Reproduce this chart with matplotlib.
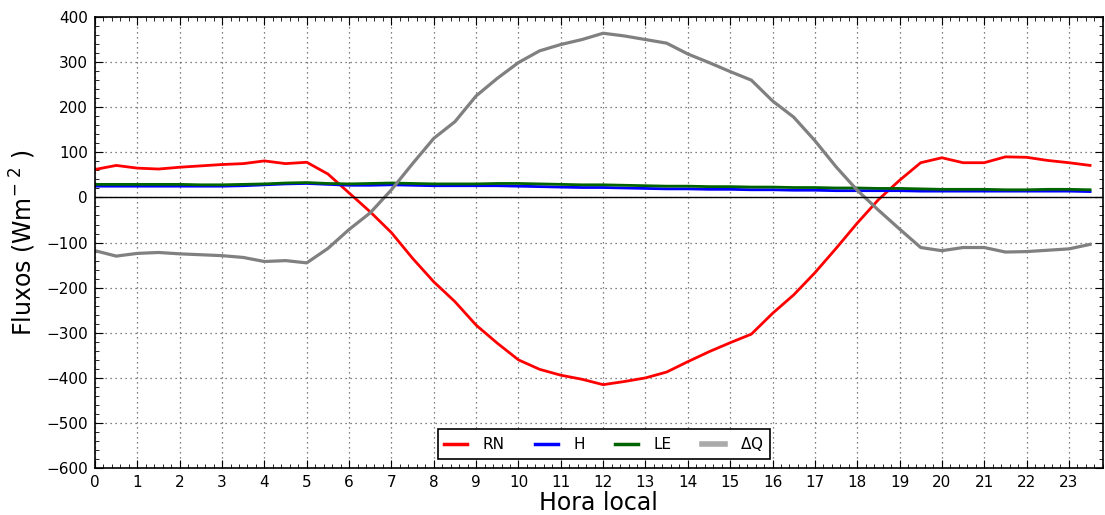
import numpy as np
import matplotlib
matplotlib.use("Agg")
import matplotlib.pyplot as plt
from matplotlib.ticker import MultipleLocator

hours = np.arange(0, 24, 0.5)

rn = [62, 71, 65, 63, 67, 70, 73, 75, 81, 75, 78, 52, 10, -32, -78, -135,
      -187, -231, -283, -323, -360, -381, -394, -403, -415, -408, -400, -387,
      -364, -342, -322, -303, -257, -216, -167, -113, -57, -5, 38, 77,
      88, 77, 77, 90, 89, 82, 77, 71]

h = [25, 25, 25, 25, 25, 25, 25, 26, 28, 30, 31, 29, 27, 27, 28, 27,
     26, 26, 26, 26, 25, 24, 23, 22, 22, 21, 20, 19, 19, 18, 18, 17,
     17, 16, 16, 15, 15, 15, 15, 14, 14, 14, 14, 14, 14, 14, 14, 13]

le = [29, 29, 29, 29, 29, 28, 28, 29, 30, 32, 33, 31, 30, 31, 32, 31,
      30, 30, 30, 31, 31, 30, 29, 28, 28, 27, 26, 25, 25, 24, 24, 23,
      23, 22, 22, 21, 21, 20, 20, 19, 18, 18, 18, 17, 17, 18, 18, 17]

dq = [-118, -130, -124, -122, -125, -127, -129, -133, -142, -140, -145, -113,
      -71, -34, 17, 75, 131, 168, 225, 264, 299, 325, 339, 350,
      364, 358, 350, 342, 318, 299, 279, 260, 214, 178, 126, 68,
      16, -28, -70, -111, -118, -111, -111, -121, -120, -117, -114, -104]

fig = plt.figure(figsize=(11.05, 5.15), dpi=100)
ax = fig.add_axes([0.086, 0.091, 0.912, 0.876])

ax.plot(hours, rn, color='red', lw=2, label='RN')
ax.plot(hours, h, color='blue', lw=2, label='H')
ax.plot(hours, le, color='darkgreen', lw=2, label='LE')
ax.plot(hours, dq, color='gray', lw=2.3, label=r'$\Delta$Q')
ax.axhline(0, color='black', lw=1)

ax.set_xlim(0, 23.8)
ax.set_ylim(-600, 400)
ax.xaxis.set_major_locator(MultipleLocator(1))
ax.xaxis.set_minor_locator(MultipleLocator(0.2))
ax.yaxis.set_major_locator(MultipleLocator(100))
ax.yaxis.set_minor_locator(MultipleLocator(20))
ax.tick_params(which='both', direction='in', top=True, right=True)
ax.tick_params(which='major', length=6, labelsize=11, pad=5)
ax.tick_params(which='minor', length=3)
ax.grid(True, which='major', color='0.35', linestyle=(0, (1, 3)), lw=0.9)
for s in ax.spines.values():
    s.set_linewidth(1.2)

ax.set_xlabel('Hora local', fontsize=17, labelpad=1)
ax.set_ylabel(r'Fluxos (Wm$^{-\ 2}$ )', fontsize=17, labelpad=6)

leg = ax.legend(loc='lower center', bbox_to_anchor=(0.505, 0.0), ncol=4,
                fontsize=11, fancybox=False, edgecolor='black',
                handlelength=1.5, handletextpad=1.0, columnspacing=2.0,
                borderaxespad=0.6)
leg.get_frame().set_linewidth(1.2)
leg.get_frame().set_alpha(1)
for line in leg.get_lines():
    line.set_linewidth(2.5)
leg.get_lines()[3].set_color('#aaaaaa')
leg.get_lines()[3].set_linewidth(4)

fig.savefig('out.png', dpi=100)
